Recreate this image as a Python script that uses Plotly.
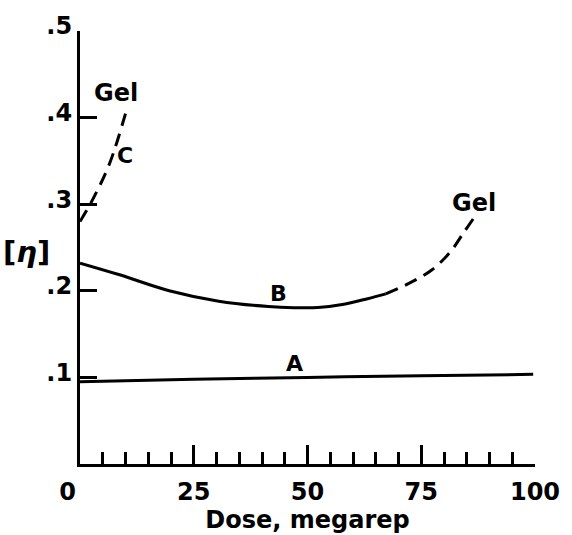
import plotly.graph_objects as go

# Intrinsic viscosity [eta] versus radiation dose
dose_a = [0, 25, 50, 75, 99.6]
eta_a = [0.095, 0.098, 0.100, 0.102, 0.1035]

dose_b_solid = [0, 8.7, 19.6, 30.5, 41.4, 47.0, 52.3, 58.0, 63.2, 67.2]
eta_b_solid = [0.232, 0.2185, 0.2001, 0.188, 0.1818, 0.1805, 0.1807, 0.1845, 0.1909, 0.1965]

dose_b_dash = [67.2, 72.6, 77.3, 81.3, 84.2, 86.4]
eta_b_dash = [0.1965, 0.2094, 0.224, 0.2443, 0.2663, 0.2829]

dose_c = [0, 2.55, 6.5, 10.5]
eta_c = [0.28, 0.303, 0.347, 0.414]

x_tickvals = [0, 25, 50, 75, 100]
x_ticktext = ["0\u00a0\u00a0\u00a0", "25", "50", "75", "100"]
y_tickvals = [0.1, 0.2, 0.3, 0.4, 0.5]
y_ticktext = [".1", ".2", ".3", ".4", ".5"]

# curve labels: (dose, eta, text, size)
labels = [
    (47.2, 0.1137, "A", 22),
    (43.6, 0.1946, "B", 22),
    (9.9, 0.354, "C", 22),
    (8.0, 0.4264, "Gel", 24),
    (86.7, 0.299, "Gel", 24),
]

FONT = "DejaVu Sans"
INK = "black"


def bold(size):
    return dict(family=FONT, size=size, color=INK, weight="bold")


fig = go.Figure()
line_solid = dict(color=INK, width=3, shape="spline", smoothing=1.0)
line_dash = dict(color=INK, width=3, shape="spline", smoothing=1.0, dash="13px,8px")

fig.add_trace(go.Scatter(x=dose_a, y=eta_a, mode="lines", line=line_solid))
fig.add_trace(go.Scatter(x=dose_b_solid, y=eta_b_solid, mode="lines", line=line_solid))
fig.add_trace(go.Scatter(x=dose_b_dash, y=eta_b_dash, mode="lines", line=line_dash))
fig.add_trace(go.Scatter(x=dose_c, y=eta_c, mode="lines", line=line_dash))

for x, y, t, s in labels:
    fig.add_annotation(x=x, y=y, text=t, showarrow=False, yshift=2, font=bold(s))

# axis title for the ordinate, written horizontally
fig.add_annotation(xref="paper", yref="paper", x=-0.118, y=0.49,
                   xanchor="center", yanchor="middle",
                   text="[<i>\u03b7</i>]", showarrow=False, font=bold(29))

fig.update_layout(
    width=572, height=535,
    margin=dict(l=80, r=33, t=20, b=62),
    paper_bgcolor="white", plot_bgcolor="white",
    showlegend=False,
    font=bold(24),
)

fig.update_xaxes(
    range=[0, 100], showgrid=False, zeroline=False,
    showline=True, linecolor=INK, linewidth=3,
    tickmode="array", tickvals=x_tickvals, ticktext=x_ticktext,
    ticks="inside", ticklen=19, tickwidth=2.5, tickcolor=INK,
    tickfont=bold(24),
    ticklabelstandoff=4,
    minor=dict(dtick=5, tick0=0, ticks="inside", ticklen=12,
               tickwidth=2.5, tickcolor=INK),
    title=dict(text="Dose, megarep", font=bold(24), standoff=0),
)

fig.update_yaxes(
    range=[0, 0.5], showgrid=False, zeroline=False,
    showline=True, linecolor=INK, linewidth=3,
    tickmode="array", tickvals=y_tickvals, ticktext=y_ticktext,
    ticks="inside", ticklen=17, tickwidth=2.5, tickcolor=INK,
    tickfont=bold(24),
    ticklabelshift=-5,
)

fig.write_html("out.html")
